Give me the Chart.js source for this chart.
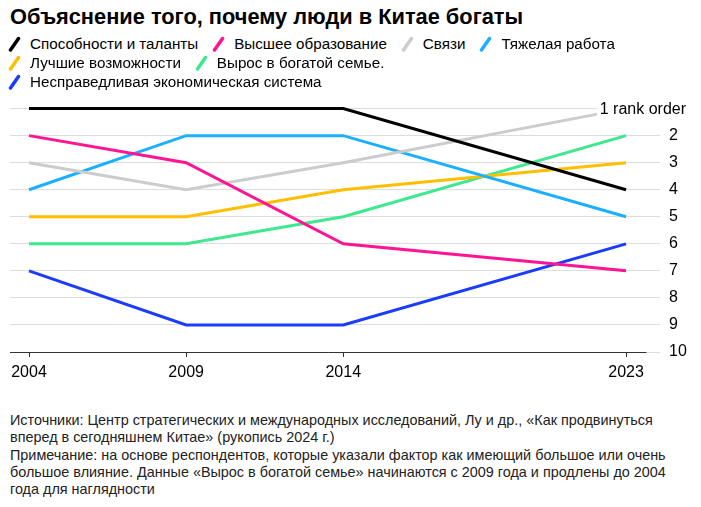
<!DOCTYPE html>
<html>
<head>
<meta charset="utf-8">
<script src="https://cdn.jsdelivr.net/npm/chart.js@4"></script>
<style>
  body { margin: 0; background: #fff; font-family: "Liberation Sans", Arial, sans-serif; }
  #wrap { position: relative; width: 701px; height: 507px; overflow: hidden; }
  #title { position: absolute; left: 10px; top: 4px; font-size: 21.8px; font-weight: bold; color: #000; white-space: nowrap; }
  #legend { position: absolute; left: 8px; top: 34px; width: 660px; display: flex; flex-wrap: wrap; font-size: 15.2px; line-height: 19px; color: #000; }
  .item { display: flex; align-items: center; margin-right: 14px; white-space: nowrap; }
  .item canvas { margin-right: 9px; }
  #chartBox { position: absolute; left: 0; top: 90px; width: 701px; height: 310px; }
  #notes { position: absolute; left: 10px; top: 412px; width: 656px; font-size: 14.4px; line-height: 17.3px; color: #222; }
</style>
</head>
<body>
<div id="wrap">
  <div id="title">Объяснение того, почему люди в Китае богаты</div>
  <div id="legend"></div>
  <div id="chartBox"><canvas id="chart" width="701" height="310"></canvas></div>
  <div id="notes">Источники: Центр стратегических и международных исследований, Лу и др., «Как продвинуться вперед в сегодняшнем Китае» (рукопись 2024 г.)<br>Примечание: на основе респондентов, которые указали фактор как имеющий большое или очень большое влияние. Данные «Вырос в богатой семье» начинаются с 2009 года и продлены до 2004 года для наглядности</div>
</div>
<script>
// survey years and rank of each explanation (1 = most cited)
const years = [2004, 2009, 2014, 2023];
const rankTicks = [1, 2, 3, 4, 5, 6, 7, 8, 9, 10];

const abilityRanks   = [1, 1, 1, 4];
const educationRanks = [2, 3, 6, 7];
const connectRanks   = [3, 4, 3, 1];
const hardWorkRanks  = [4, 2, 2, 5];
const opportRanks    = [5, 5, 4, 3];
const richFamRanks   = [6, 6, 5, 2];
const unfairRanks    = [7, 9, 9, 6];

const seriesNames = [
  'Способности и таланты',
  'Высшее образование',
  'Связи',
  'Тяжелая работа',
  'Лучшие возможности',
  'Вырос в богатой семье.',
  'Несправедливая экономическая система'
];
const seriesRanks = [abilityRanks, educationRanks, connectRanks, hardWorkRanks, opportRanks, richFamRanks, unfairRanks];
const seriesColors = ['#000000', '#ff1493', '#cccccc', '#1ab0ff', '#ffbf00', '#3de88f', '#1a3cff'];

// legend with slanted line markers
const legendEl = document.getElementById('legend');
seriesNames.forEach((name, i) => {
  const item = document.createElement('div');
  item.className = 'item';
  const c = document.createElement('canvas');
  c.width = 13; c.height = 16;
  const g = c.getContext('2d');
  g.strokeStyle = seriesColors[i];
  g.lineWidth = 3.5;
  g.lineCap = 'round';
  g.beginPath();
  g.moveTo(2.5, 14);
  g.lineTo(10.5, 2.5);
  g.stroke();
  item.appendChild(c);
  const span = document.createElement('span');
  span.textContent = name;
  item.appendChild(span);
  legendEl.appendChild(item);
});

// axis line that stops short of the gridlines, plus the "1 rank order" label
const extrasPlugin = {
  id: 'extras',
  afterDatasetsDraw(chart) {
    const ctx = chart.ctx;
    const x = chart.scales.x;
    const y = chart.scales.y;
    const area = chart.chartArea;
    ctx.save();
    ctx.strokeStyle = '#333';
    ctx.lineWidth = 1;
    ctx.beginPath();
    ctx.moveTo(area.left, Math.round(area.bottom) + 0.5);
    ctx.lineTo(x.getPixelForValue(2023.65), Math.round(area.bottom) + 0.5);
    ctx.stroke();

    ctx.font = '16px "Liberation Sans", Arial, sans-serif';
    const txt = '1 rank order';
    const w = ctx.measureText(txt).width;
    const right = area.right + 26;
    const yy = y.getPixelForValue(1);
    ctx.fillStyle = '#fff';
    ctx.fillRect(right - w - 3, yy - 9, w + 6, 18);
    ctx.fillStyle = '#000';
    ctx.textAlign = 'right';
    ctx.textBaseline = 'middle';
    ctx.fillText(txt, right, yy + 1);
    ctx.restore();
  }
};

new Chart(document.getElementById('chart'), {
  type: 'line',
  data: {
    datasets: seriesNames.map((name, i) => ({
      label: name,
      data: years.map((yr, j) => ({ x: yr, y: seriesRanks[i][j] })),
      borderColor: seriesColors[i],
      backgroundColor: seriesColors[i],
      borderWidth: 3,
      pointRadius: 0,
      tension: 0,
      clip: 6
    }))
  },
  options: {
    responsive: false,
    animation: false,
    layout: { padding: { left: 10, top: 17, right: 0, bottom: 0 } },
    plugins: { legend: { display: false }, tooltip: { enabled: false } },
    scales: {
      x: {
        type: 'linear',
        min: 2003.395,
        max: 2024.08,
        afterBuildTicks: s => { s.ticks = years.map(v => ({ value: v })); },
        afterFit: s => { s.height = 48; },
        border: { display: false },
        grid: { drawOnChartArea: false, drawTicks: true, tickLength: 5, color: '#333' },
        ticks: { color: '#000', font: { family: '"Liberation Sans", Arial, sans-serif', size: 16 }, padding: 6, maxRotation: 0, callback: v => String(v) }
      },
      y: {
        position: 'right',
        reverse: true,
        min: 1,
        max: 10,
        afterBuildTicks: s => { s.ticks = rankTicks.map(v => ({ value: v })); },
        afterFit: s => { s.width = 41; },
        border: { display: false },
        grid: { color: '#dddddd', lineWidth: 1, drawTicks: false },
        ticks: { color: '#000', font: { family: '"Liberation Sans", Arial, sans-serif', size: 16 }, padding: 9, autoSkip: false, callback: v => (v === 1 ? '' : String(v)) }
      }
    }
  },
  plugins: [extrasPlugin]
});
</script>
</body>
</html>
